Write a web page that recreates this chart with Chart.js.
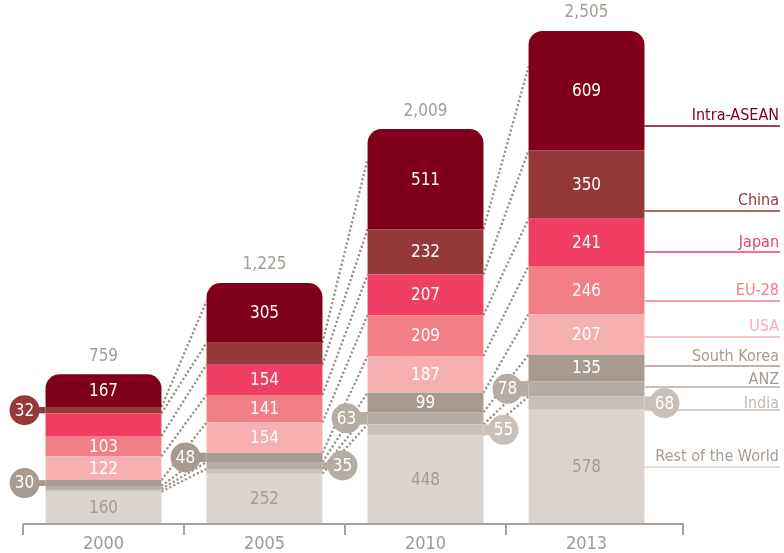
<!DOCTYPE html>
<html><head><meta charset="utf-8">
<script src="https://cdn.jsdelivr.net/npm/chart.js@4.4.1/dist/chart.umd.min.js"></script>
<style>html,body{margin:0;padding:0;background:#fff;} #wrap{width:784px;height:553px;position:relative;}</style>
</head><body><div id="wrap"><canvas id="c" width="784" height="553"></canvas></div>
<script>
// ---- data ----
const categories = ['2000', '2005', '2010', '2013'];
const restOfWorld = [160, 252, 448, 578];
const india = [13, 24, 55, 68];
const anz = [16, 35, 63, 78];
const southKorea = [30, 48, 99, 135];
const usa = [122, 154, 187, 207];
const eu28 = [103, 141, 209, 246];
const japan = [116, 154, 207, 241];
const china = [32, 112, 232, 350];
const intraAsean = [167, 305, 511, 609];
const totals = [759, 1225, 2009, 2505];
const seriesNames = ['Rest of the World', 'India', 'ANZ', 'South Korea', 'USA', 'EU-28', 'Japan', 'China', 'Intra-ASEAN'];
const seriesValues = [restOfWorld, india, anz, southKorea, usa, eu28, japan, china, intraAsean];

// ---- presentation ----
const FONT = "'Liberation Sans Narrow','DejaVu Sans Condensed','Roboto Condensed',sans-serif";
const seriesColors = ['#DAD3CE', '#C9C0B9', '#B5ACA4', '#A69A91', '#F7B0B0', '#F27E86', '#F03F62', '#943838', '#80001B'];
const legendTextColors = ['#A69A91', '#C2B9B2', '#A69A91', '#A69A91', '#F7B0B0', '#F27E86', '#F03F62', '#943838', '#80001B'];
// label placement per series (same order as seriesNames), per year
const labelModes = [
  ['in', 'in', 'in', 'in'],
  ['', '', 'right', 'right'],
  ['', 'right', 'left', 'left'],
  ['left', 'left', 'in', 'in'],
  ['in', 'in', 'in', 'in'],
  ['in', 'in', 'in', 'in'],
  ['', 'in', 'in', 'in'],
  ['left', '', 'in', 'in'],
  ['in', 'in', 'in', 'in']
];
// legend layout: [lineY, baselineY] per series
const legendLayout = [[467, 461], [410, 408], [387, 384], [366, 361], [337, 331], [301, 294.5], [252, 246.5], [211, 205], [126, 120]];

const decor = {
  id: 'decor',
  beforeDatasetsDraw(chart) {
    const ctx = chart.ctx;
    const metas = chart.data.datasets.map((d, i) => chart.getDatasetMeta(i));
    ctx.save();
    ctx.strokeStyle = '#98908a';
    ctx.lineWidth = 2.3;
    ctx.setLineDash([2.2, 2.2]);
    for (let i = 0; i < categories.length - 1; i++) {
      for (let k = 1; k < metas.length; k++) {
        const a = metas[k].data[i], b = metas[k].data[i + 1];
        const x1 = a.x + a.width / 2, y1 = a.base;
        let y2 = b.y;
        if (k === metas.length - 1) y2 = b.y + (b.base - b.y) * 0.3;
        const x2 = b.x - b.width / 2;
        ctx.beginPath(); ctx.moveTo(x1, y1); ctx.lineTo(x2, y2); ctx.stroke();
      }
    }
    ctx.restore();
  },
  afterDatasetsDraw(chart) {
    const ctx = chart.ctx;
    const area = chart.chartArea;
    const metas = chart.data.datasets.map((d, i) => chart.getDatasetMeta(i));
    ctx.save();
    ctx.textAlign = 'center';
    ctx.textBaseline = 'middle';
    ctx.font = '17px ' + FONT;
    // segment labels and callouts
    metas.forEach((meta, k) => {
      meta.data.forEach((el, i) => {
        const mode = labelModes[k][i];
        if (!mode) return;
        const yc = (el.y + el.base) / 2;
        const h = el.base - el.y;
        const txt = String(seriesValues[k][i]);
        if (mode === 'in') {
          ctx.fillStyle = k === 0 ? '#A59C95' : '#FFFFFF';
          ctx.fillText(txt, el.x, yc + 1);
        } else {
          const edge = mode === 'left' ? el.x - el.width / 2 : el.x + el.width / 2;
          const cx = mode === 'left' ? edge - 21 : edge + 20;
          ctx.fillStyle = seriesColors[k];
          ctx.fillRect(Math.min(cx, edge), el.y, Math.abs(edge - cx), h);
          ctx.beginPath(); ctx.arc(cx, yc, 15, 0, Math.PI * 2); ctx.fill();
          ctx.fillStyle = '#FFFFFF';
          ctx.fillText(txt, cx, yc + 1);
        }
      });
    });
    // totals
    const top = metas[metas.length - 1];
    ctx.fillStyle = '#A59C95';
    top.data.forEach((el, i) => {
      ctx.fillText(totals[i].toLocaleString('en-US'), el.x, el.y - 18);
    });
    // x axis line and ticks
    const xs = chart.scales.x;
    const step = xs.getPixelForValue(1) - xs.getPixelForValue(0);
    const axY = area.bottom + 1;
    const endX = area.right + 16;
    ctx.strokeStyle = '#A9A19B';
    ctx.lineWidth = 2;
    ctx.beginPath(); ctx.moveTo(area.left, axY); ctx.lineTo(endX + 1, axY); ctx.stroke();
    const tickXs = categories.map((c, i) => xs.getPixelForValue(i) - step / 2);
    tickXs.push(endX);
    tickXs.forEach(tx => {
      ctx.beginPath(); ctx.moveTo(tx, axY); ctx.lineTo(tx, axY + 11); ctx.stroke();
    });
    // legend
    const lastBar = top.data[top.data.length - 1];
    const lx0 = lastBar.x + lastBar.width / 2;
    ctx.textAlign = 'right';
    ctx.textBaseline = 'alphabetic';
    ctx.font = '16px ' + FONT;
    seriesNames.forEach((name, k) => {
      const [ly, by] = legendLayout[k];
      ctx.globalAlpha = 0.75;
      ctx.strokeStyle = seriesColors[k];
      ctx.lineWidth = 2;
      ctx.beginPath(); ctx.moveTo(lx0, ly); ctx.lineTo(780, ly); ctx.stroke();
      ctx.globalAlpha = 1;
      ctx.fillStyle = legendTextColors[k];
      ctx.fillText(name, 779, by);
    });
    ctx.restore();
  }
};

const datasets = seriesNames.map((name, k) => ({
  label: name,
  data: seriesValues[k],
  backgroundColor: seriesColors[k],
  borderWidth: 0,
  barPercentage: 0.72,
  categoryPercentage: 1,
  borderRadius: k === seriesNames.length - 1 ? { topLeft: 14, topRight: 14, bottomLeft: 0, bottomRight: 0 } : 0,
  borderSkipped: k === seriesNames.length - 1 ? 'bottom' : 'start'
}));

new Chart(document.getElementById('c'), {
  type: 'bar',
  data: { labels: categories, datasets },
  options: {
    responsive: false,
    animation: false,
    devicePixelRatio: 1,
    layout: { padding: { left: 23, right: 117, top: 0, bottom: 0 } },
    plugins: { legend: { display: false }, tooltip: { enabled: false } },
    scales: {
      x: {
        stacked: true,
        grid: { display: false, drawTicks: false },
        border: { display: false },
        ticks: { font: { family: FONT, size: 18 }, color: '#A09891', padding: 11 },
        afterFit(s) { s.height = 30; }
      },
      y: { stacked: true, display: false, min: 0, max: 2670 }
    }
  },
  plugins: [decor]
});
</script>
</body></html>
